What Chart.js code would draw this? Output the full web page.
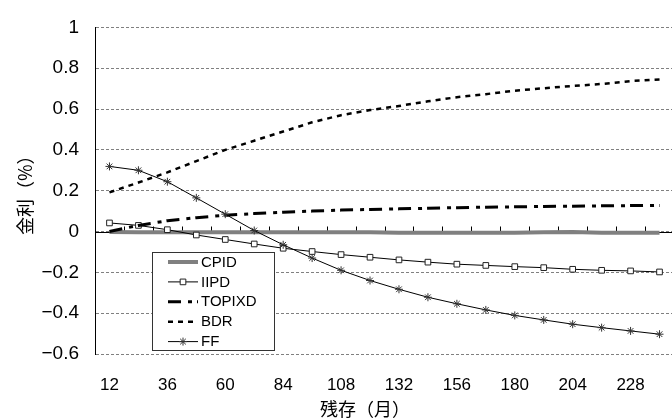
<!DOCTYPE html>
<html>
<head>
<meta charset="utf-8">
<script src="https://cdn.jsdelivr.net/npm/chart.js@4.4.1/dist/chart.umd.min.js"></script>
<style>
  html, body { margin: 0; padding: 0; overflow: hidden; background: #fff; }
  canvas { display: block; }
</style>
</head>
<body>
<canvas id="c" width="679" height="419"></canvas>
<script>
// Remaining maturity (months)
const months = [12, 24, 36, 48, 60, 72, 84, 96, 108, 120, 132, 144, 156, 168, 180, 192, 204, 216, 228, 240];

// Rates (%) for each series
const cpid   = [-0.002, -0.004, -0.004, -0.003, -0.004, -0.004, -0.004, -0.004, -0.003, -0.004, -0.006, -0.006, -0.006, -0.006, -0.006, -0.003, -0.002, -0.006, -0.006, -0.006];
const iipd   = [0.042, 0.030, 0.009, -0.017, -0.039, -0.061, -0.082, -0.098, -0.113, -0.126, -0.139, -0.150, -0.160, -0.166, -0.172, -0.177, -0.185, -0.190, -0.193, -0.198];
const topixd = [0.000, 0.030, 0.053, 0.068, 0.080, 0.088, 0.095, 0.100, 0.105, 0.108, 0.111, 0.114, 0.117, 0.119, 0.121, 0.123, 0.124, 0.126, 0.127, 0.128];
const bdr    = [0.192, 0.240, 0.290, 0.345, 0.400, 0.445, 0.490, 0.535, 0.570, 0.595, 0.615, 0.638, 0.658, 0.673, 0.690, 0.702, 0.713, 0.723, 0.737, 0.745];
const ff     = [0.319, 0.300, 0.244, 0.165, 0.085, 0.005, -0.065, -0.130, -0.190, -0.240, -0.283, -0.322, -0.354, -0.384, -0.411, -0.433, -0.454, -0.471, -0.487, -0.503];

// Axis ticks and titles
const yMin = -0.6, yMax = 1, yStep = 0.2;
const xTitle = '残存（月）';
const yTitle = '金利（%）';

const NUM_FONT = "'Liberation Sans', Arial, sans-serif";
const JP_FONT = "'Noto Sans CJK JP', sans-serif";

// Zero axis line with category tick marks pointing up
const zeroAxis = {
  id: 'zeroAxis',
  beforeDatasetsDraw(chart) {
    const { ctx, chartArea, scales } = chart;
    const x = scales.x, y = scales.y;
    const y0 = Math.round(y.getPixelForValue(0)) + 0.5;
    const half = (x.getPixelForValue(1) - x.getPixelForValue(0)) / 2;
    ctx.save();
    ctx.strokeStyle = '#000';
    ctx.lineWidth = 1;
    ctx.beginPath();
    ctx.moveTo(chartArea.left, y0);
    ctx.lineTo(chartArea.right, y0);
    for (let i = 1; i < months.length; i++) {
      const bx = Math.round(x.getPixelForValue(i) - half) + 0.5;
      ctx.moveTo(bx, y0);
      ctx.lineTo(bx, y0 - 6);
    }
    ctx.stroke();
    ctx.restore();
  }
};

// Boxed legend inside the plot and the x-axis title
const boxLegend = {
  id: 'boxLegend',
  afterDraw(chart) {
    const { ctx } = chart;
    const box = { x: 152.5, y: 252.5, w: 122, h: 98 };
    ctx.save();
    ctx.fillStyle = '#fff';
    ctx.fillRect(box.x, box.y, box.w, box.h);
    ctx.strokeStyle = '#333';
    ctx.lineWidth = 1;
    ctx.strokeRect(box.x, box.y, box.w, box.h);
    ctx.font = "15px " + NUM_FONT;
    ctx.textBaseline = 'middle';
    chart.data.datasets.forEach((ds, i) => {
      const cy = 262 + i * 19.9;
      ctx.save();
      ctx.strokeStyle = ds.borderColor;
      ctx.lineWidth = ds.borderWidth;
      ctx.setLineDash(ds.borderDash || []);
      ctx.beginPath();
      ctx.moveTo(168, cy);
      ctx.lineTo(198, cy);
      ctx.stroke();
      ctx.restore();
      if (ds.pointRadius > 0) {
        ctx.save();
        ctx.fillStyle = ds.pointBackgroundColor;
        ctx.strokeStyle = ds.pointBorderColor;
        ctx.lineWidth = ds.pointBorderWidth;
        Chart.helpers.drawPoint(ctx, {
          pointStyle: ds.pointStyle, radius: ds.pointRadius, rotation: 0, borderWidth: ds.pointBorderWidth
        }, 183, cy);
        ctx.restore();
      }
      ctx.fillStyle = '#000';
      ctx.fillText(ds.label, 201, cy + 0.5);
    });
    // x-axis title
    ctx.font = "18px " + JP_FONT;
    ctx.textAlign = 'left';
    ctx.textBaseline = 'middle';
    ctx.fillStyle = '#000';
    ctx.fillText(xTitle, 320, 409);
    ctx.restore();
  }
};

const lineBase = { tension: 0, fill: false, pointHoverRadius: 0 };

new Chart(document.getElementById('c'), {
  type: 'line',
  data: {
    labels: months.map(String),
    datasets: [
      { ...lineBase, label: 'CPID', data: cpid, borderColor: '#808080', borderWidth: 4, pointRadius: 0, order: 5 },
      { ...lineBase, label: 'IIPD', data: iipd, borderColor: '#000', borderWidth: 1,
        pointStyle: 'rect', pointRadius: 4, pointBorderWidth: 1, pointBorderColor: '#222', pointBackgroundColor: '#fff', order: 4 },
      { ...lineBase, label: 'TOPIXD', data: topixd, borderColor: '#000', borderWidth: 3, borderDash: [13, 7, 4, 5], pointRadius: 0, order: 3 },
      { ...lineBase, label: 'BDR', data: bdr, borderColor: '#000', borderWidth: 2.5, borderDash: [5, 5], pointRadius: 0, order: 2 },
      { ...lineBase, label: 'FF', data: ff, borderColor: '#000', borderWidth: 1,
        pointStyle: 'star', pointRadius: 4, pointBorderWidth: 1, pointBorderColor: '#333', pointBackgroundColor: '#333', order: 1 }
    ]
  },
  options: {
    responsive: false,
    animation: false,
    devicePixelRatio: 1,
    layout: { padding: { top: 17, right: 0, left: 0, bottom: 0 } },
    plugins: { legend: { display: false }, tooltip: { enabled: false } },
    scales: {
      x: {
        type: 'category',
        offset: true,
        grid: { display: false },
        border: { display: false },
        ticks: {
          autoSkip: false, maxRotation: 0, padding: 13, color: '#000',
          font: { family: NUM_FONT, size: 17 },
          callback: (v, i) => (i % 2 === 0 ? months[i] : '')
        },
        afterFit(s) { s.height = 65; }
      },
      y: {
        min: yMin, max: yMax,
        grid: { color: '#808080', lineWidth: 1, drawTicks: false },
        border: { display: true, color: '#000', width: 1, dash: [3, 2] },
        ticks: {
          stepSize: yStep, padding: 16, color: '#000',
          font: { family: NUM_FONT, size: 19 },
          callback: (v) => {
            const r = Math.round(v * 10) / 10;
            return r < 0 ? '\u2212' + Math.abs(r) : String(r);
          }
        },
        title: { display: true, text: yTitle, color: '#000', font: { family: JP_FONT, size: 18 }, padding: { top: 14, bottom: 0 } },
        afterFit(s) { s.width = 95; }
      }
    }
  },
  plugins: [zeroAxis, boxLegend]
});
</script>
</body>
</html>
